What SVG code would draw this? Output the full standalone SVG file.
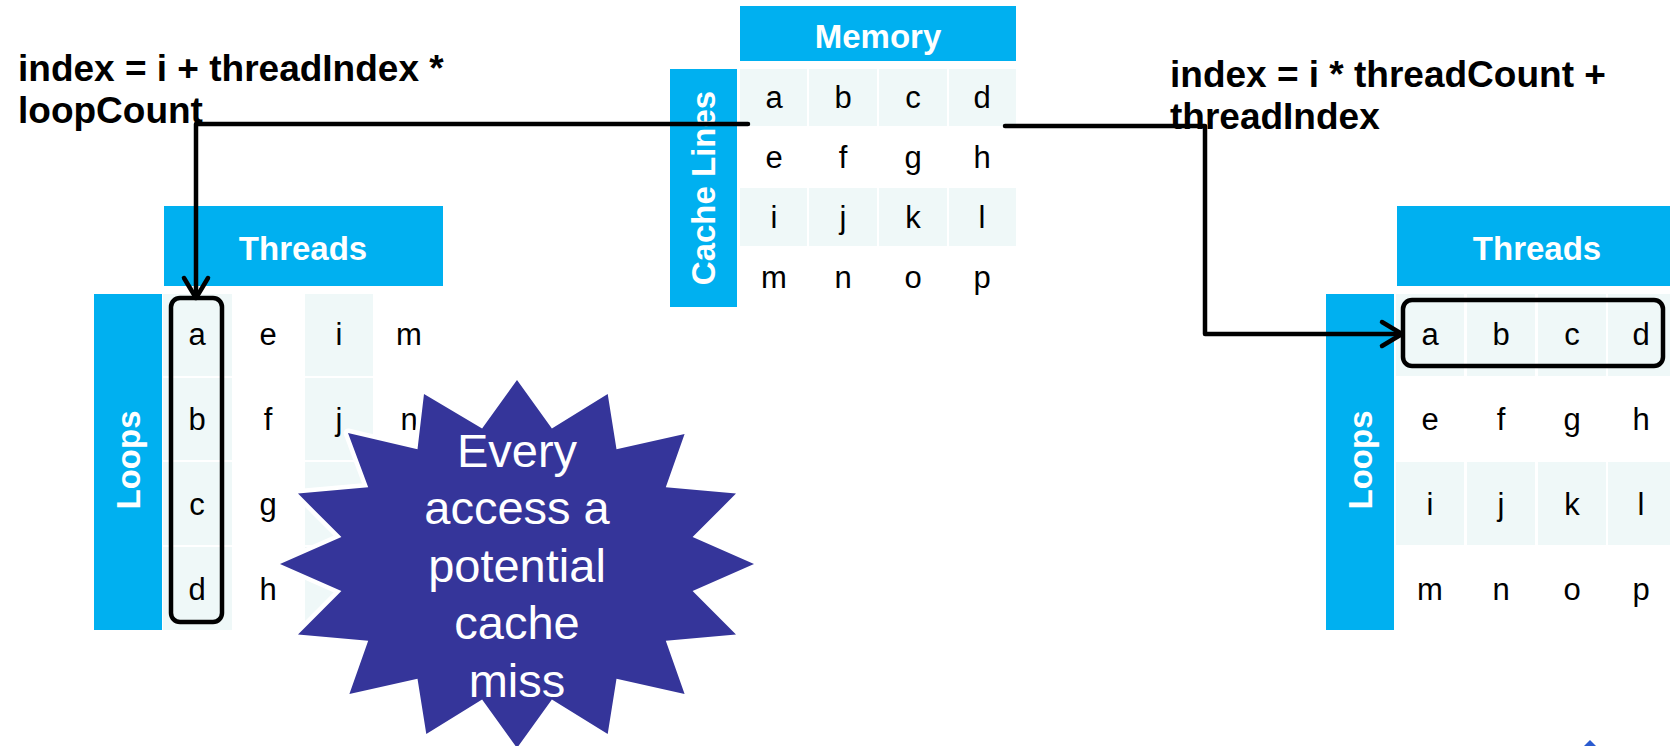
<svg xmlns="http://www.w3.org/2000/svg" width="1670" height="746" viewBox="0 0 1670 746">
  <defs>
    <style>
      .bar { fill: #00b0f0; }
      .shade { fill: #eff8f8; }
      .hdr { font-family: "Liberation Sans", Arial, sans-serif; font-weight: bold; font-size: 33px; fill: #ffffff; text-anchor: middle; }
      .cell { font-family: "Liberation Sans", Arial, sans-serif; font-size: 31px; fill: #000000; text-anchor: middle; }
      .formula { font-family: "Liberation Sans", Arial, sans-serif; font-weight: bold; font-size: 37px; fill: #000000; }
      .wire { fill: none; stroke: #000000; stroke-width: 4.5; stroke-linecap: round; stroke-linejoin: round; }
      .box { fill: none; stroke: #000000; stroke-width: 4.5; }
      .burst { fill: #35359a; stroke: #ffffff; stroke-width: 9; stroke-linejoin: round; paint-order: stroke; }
      .burst-text { font-family: "Liberation Sans", Arial, sans-serif; font-size: 47px; fill: #ffffff; text-anchor: middle; }
    </style>
  </defs>

  <rect width="1670" height="746" fill="#ffffff"/>

  <!-- Memory layout: cache lines of four elements -->
  <g id="memory-table">
    <rect class="bar" x="740" y="6" width="276" height="55"/>
    <text class="hdr" x="878" y="48">Memory</text>
    <rect class="bar" x="670" y="69" width="67" height="238"/>
    <text class="hdr" transform="translate(715,188) rotate(-90)">Cache Lines</text>
    <rect class="shade" x="740" y="69" width="67" height="57"/>
    <rect class="shade" x="809" y="69" width="68" height="57"/>
    <rect class="shade" x="879" y="69" width="68" height="57"/>
    <rect class="shade" x="949" y="69" width="67" height="57"/>
    <rect class="shade" x="740" y="188" width="67" height="58"/>
    <rect class="shade" x="809" y="188" width="68" height="58"/>
    <rect class="shade" x="879" y="188" width="68" height="58"/>
    <rect class="shade" x="949" y="188" width="67" height="58"/>
    <text class="cell" x="774" y="108">a</text>
    <text class="cell" x="843" y="108">b</text>
    <text class="cell" x="913" y="108">c</text>
    <text class="cell" x="982" y="108">d</text>
    <text class="cell" x="774" y="168">e</text>
    <text class="cell" x="843" y="168">f</text>
    <text class="cell" x="913" y="168">g</text>
    <text class="cell" x="982" y="168">h</text>
    <text class="cell" x="774" y="228">i</text>
    <text class="cell" x="843" y="228">j</text>
    <text class="cell" x="913" y="228">k</text>
    <text class="cell" x="982" y="228">l</text>
    <text class="cell" x="774" y="288">m</text>
    <text class="cell" x="843" y="288">n</text>
    <text class="cell" x="913" y="288">o</text>
    <text class="cell" x="982" y="288">p</text>
  </g>

  <!-- Left: each thread walks a contiguous block -->
  <g id="formula-left">
    <text class="formula" x="18" y="81">index = i + threadIndex *</text>
    <text class="formula" x="18" y="123">loopCount</text>
  </g>

  <g id="left-table">
    <rect class="bar" x="164" y="206" width="279" height="80"/>
    <text class="hdr" x="303" y="260">Threads</text>
    <rect class="bar" x="94" y="294" width="68" height="336"/>
    <text class="hdr" transform="translate(140,460) rotate(-90)">Loops</text>
    <rect class="shade" x="163" y="294" width="69" height="82"/>
    <rect class="shade" x="163" y="378" width="69" height="82"/>
    <rect class="shade" x="163" y="462" width="69" height="83"/>
    <rect class="shade" x="163" y="547" width="69" height="83"/>
    <rect class="shade" x="305" y="294" width="68" height="82"/>
    <rect class="shade" x="305" y="378" width="68" height="82"/>
    <rect class="shade" x="305" y="462" width="68" height="83"/>
    <rect class="shade" x="305" y="547" width="68" height="83"/>
    <text class="cell" x="197" y="345">a</text>
    <text class="cell" x="197" y="430">b</text>
    <text class="cell" x="197" y="515">c</text>
    <text class="cell" x="197" y="600">d</text>
    <text class="cell" x="268" y="345">e</text>
    <text class="cell" x="268" y="430">f</text>
    <text class="cell" x="268" y="515">g</text>
    <text class="cell" x="268" y="600">h</text>
    <text class="cell" x="339" y="345">i</text>
    <text class="cell" x="339" y="430">j</text>
    <text class="cell" x="409" y="345">m</text>
    <text class="cell" x="409" y="430">n</text>
    <rect class="box" x="171" y="298" width="51" height="324" rx="9"/>
  </g>

  <!-- Right: threads interleave across each cache line -->
  <g id="formula-right">
    <text class="formula" x="1170" y="87">index = i * threadCount +</text>
    <text class="formula" x="1170" y="129">threadIndex</text>
  </g>

  <g id="right-table">
    <rect class="bar" x="1397" y="206" width="280" height="80"/>
    <text class="hdr" x="1537" y="260">Threads</text>
    <rect class="bar" x="1326" y="294" width="68" height="336"/>
    <text class="hdr" transform="translate(1372,460) rotate(-90)">Loops</text>
    <rect class="shade" x="1396" y="294" width="68" height="82"/>
    <rect class="shade" x="1467" y="294" width="68" height="82"/>
    <rect class="shade" x="1538" y="294" width="68" height="82"/>
    <rect class="shade" x="1608" y="294" width="68" height="82"/>
    <rect class="shade" x="1396" y="462" width="68" height="83"/>
    <rect class="shade" x="1467" y="462" width="68" height="83"/>
    <rect class="shade" x="1538" y="462" width="68" height="83"/>
    <rect class="shade" x="1608" y="462" width="68" height="83"/>
    <text class="cell" x="1430" y="345">a</text>
    <text class="cell" x="1501" y="345">b</text>
    <text class="cell" x="1572" y="345">c</text>
    <text class="cell" x="1641" y="345">d</text>
    <text class="cell" x="1430" y="430">e</text>
    <text class="cell" x="1501" y="430">f</text>
    <text class="cell" x="1572" y="430">g</text>
    <text class="cell" x="1641" y="430">h</text>
    <text class="cell" x="1430" y="515">i</text>
    <text class="cell" x="1501" y="515">j</text>
    <text class="cell" x="1572" y="515">k</text>
    <text class="cell" x="1641" y="515">l</text>
    <text class="cell" x="1430" y="600">m</text>
    <text class="cell" x="1501" y="600">n</text>
    <text class="cell" x="1572" y="600">o</text>
    <text class="cell" x="1641" y="600">p</text>
    <rect class="box" x="1403" y="300" width="260" height="66" rx="9"/>
  </g>

  <!-- Connectors from the first cache line to each access pattern -->
  <g id="connectors">
    <polyline class="wire" points="748,124 196,124 196,297"/>
    <polyline class="wire" points="184,278 196,298 208,278"/>
    <polyline class="wire" points="1005,126 1205,126 1205,334 1401,334"/>
    <polyline class="wire" points="1382,322 1402,334 1382,346"/>
  </g>

  <!-- Callout burst -->
  <g id="callout">
    <polygon class="burst"
      points="517,380 551.9,428.6 607.7,394 616.5,449.3 684.6,433.9 665.8,487.3 736,493.6 692.6,537.1 754,564 692.6,590.9 736,634.4 665.8,640.7 684.6,694.1 616.5,678.7 607.7,734 551.9,699.4 517,748 482.1,699.4 426.3,734 417.5,678.7 349.4,694.1 368.2,640.7 298,634.4 341.4,590.9 280,564 341.4,537.1 298,493.6 368.2,487.3 348,433 417.5,449.3 424,394 482.1,428.6"/>
    <text class="burst-text" x="517" y="467">Every</text>
    <text class="burst-text" x="517" y="524">access a</text>
    <text class="burst-text" x="517" y="582">potential</text>
    <text class="burst-text" x="517" y="639">cache</text>
    <text class="burst-text" x="517" y="697">miss</text>
  </g>

  <path d="M1584,746 L1590,740 L1596,746 Z" fill="#2a5bd0"/>
</svg>
